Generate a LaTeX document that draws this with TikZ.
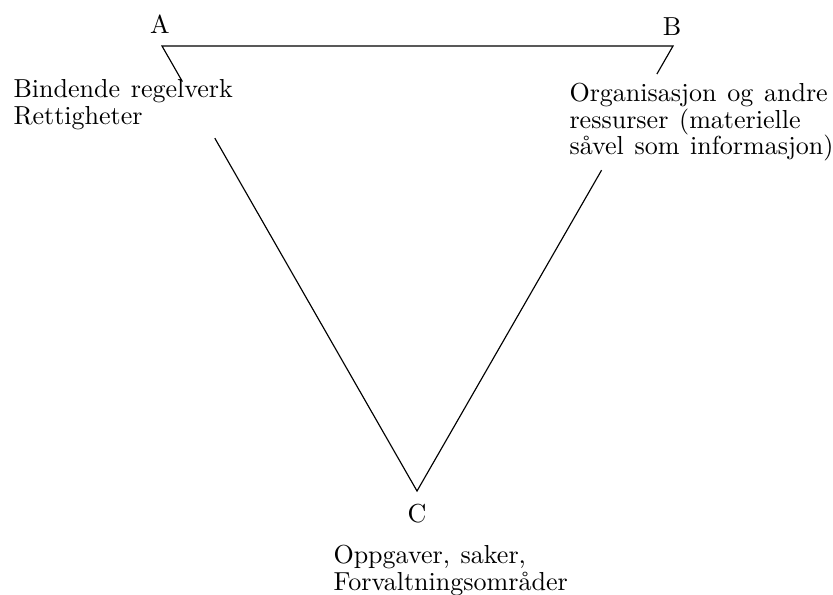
\documentclass[tikz,border=0pt]{standalone}
\usepackage{tikz}
\usetikzlibrary{calc,positioning}
\newcommand\wordgap{\spaceskip=4.2pt plus 1pt minus 0.5pt\relax}
\tikzset{
  corner/.style={font=\fontsize{10.2}{12}\selectfont, inner sep=0pt, anchor=base},
  note/.style={align=left, inner sep=0pt, anchor=north west,
        font=\fontsize{10.2}{10.4}\selectfont\wordgap},
  side/.style={line width=0.45pt},
}
\begin{document}
\begin{tikzpicture}[x=0.392pt,y=-0.392pt]
  \useasboundingbox (0,0) rectangle (833,594);
  \coordinate (a) at (162,46);
  \coordinate (b) at (673,46);
  \coordinate (c) at (417,491);
  \node[corner] (la) at (160,33) {A};
  \node[corner] (lb) at (672,35) {B};
  \node[corner] (lc) at (417,522) {C};
  \node[note] (rules) at (13,79) {Bindende regelverk\\Rettigheter};
  \node[note] (org) at (569,83)
    {Organisasjon og andre\\ressurser (materielle\\såvel som informasjon)};
  \node[note] (tasks) at (333,545) {Oppgaver, saker,\\Forvaltningsområder};
  \coordinate (a1) at ($(a)!0.08!(c)$);
  \coordinate (a2) at ($(a)!0.207!(c)$);
  \coordinate (b1) at ($(b)!0.063!(c)$);
  \coordinate (b2) at ($(b)!0.279!(c)$);
  \draw[side] (a1) -- (a) -- (b) -- (b1);
  \draw[side] (a2) -- (c) -- (b2);
\end{tikzpicture}
\end{document}
